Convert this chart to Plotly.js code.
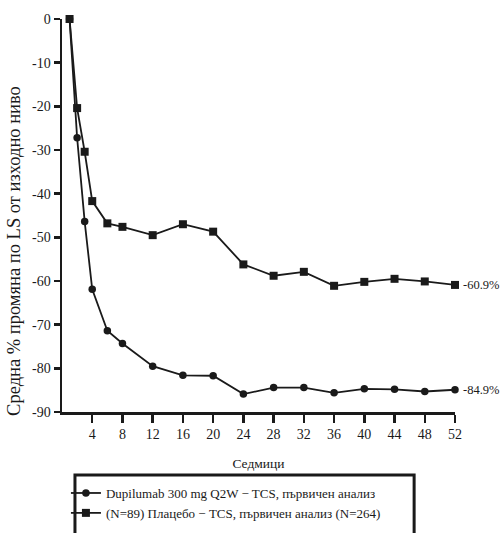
<!DOCTYPE html>
<html>
<head>
<meta charset="utf-8">
<script src="https://cdn.plot.ly/plotly-3.0.1.min.js"></script>
<style>
  html, body { margin: 0; padding: 0; background: #fff; }
  #chart { width: 503px; height: 533px; }
</style>
</head>
<body>
<div id="chart"></div>
<script>
// Weeks of assessment
const weeks = [1, 2, 3, 4, 6, 8, 12, 16, 20, 24, 28, 32, 36, 40, 44, 48, 52];

// Mean % change from baseline in LS
const dupilumab = [0, -27.2, -46.4, -61.9, -71.4, -74.3, -79.5, -81.6, -81.7, -85.9,
                   -84.4, -84.4, -85.6, -84.7, -84.8, -85.3, -84.9];
const placebo = [0, -20.4, -30.4, -41.7, -46.8, -47.6, -49.5, -47.0, -48.7, -56.2,
                 -58.8, -57.9, -61.1, -60.2, -59.5, -60.1, -60.9];

const seriesNames = [
  'Dupilumab 300 mg Q2W − TCS, първичен анализ',
  '(N=89) Плацебо − TCS, първичен анализ (N=264)'
];

const xTicks = [4, 8, 12, 16, 20, 24, 28, 32, 36, 40, 44, 48, 52];
const yTicks = [0, -10, -20, -30, -40, -50, -60, -70, -80, -90];

const serif = 'Liberation Serif, Times New Roman, serif';
const ink = '#1a1a1a';

const traces = [
  {
    x: weeks, y: dupilumab, name: seriesNames[0],
    type: 'scatter', mode: 'lines+markers', cliponaxis: false,
    line: { color: ink, width: 1.8 },
    marker: { symbol: 'circle', size: 7.5, color: ink }
  },
  {
    x: weeks, y: placebo, name: seriesNames[1],
    type: 'scatter', mode: 'lines+markers', cliponaxis: false,
    line: { color: ink, width: 1.8 },
    marker: { symbol: 'square', size: 8, color: ink }
  }
];

const lastIdx = weeks.length - 1;
const endLabels = [
  { y: placebo[lastIdx], text: placebo[lastIdx].toFixed(1) + '%' },
  { y: dupilumab[lastIdx], text: dupilumab[lastIdx].toFixed(1) + '%' }
];

const annotations = endLabels.map(l => ({
  x: weeks[lastIdx], y: l.y, xref: 'x', yref: 'y',
  text: l.text, showarrow: false, xanchor: 'left', yanchor: 'middle',
  xshift: 6, font: { family: serif, size: 12.5, color: ink }
}));

// Rotated y-axis title
annotations.push({
  xref: 'paper', yref: 'paper', x: -0.122, y: 0.41,
  xanchor: 'center', yanchor: 'middle', textangle: -90,
  text: 'Средна % промяна по LS от изходно ниво', showarrow: false,
  font: { family: serif, size: 18.5, color: ink }
});

const layout = {
  width: 503, height: 533,
  margin: { l: 62, r: 48, t: 19, b: 121, autoexpand: false },
  paper_bgcolor: '#fff', plot_bgcolor: '#fff',
  font: { family: serif, size: 14, color: ink },
  showlegend: true,
  legend: {
    x: 0.01, xanchor: 'left', y: -0.168, yanchor: 'top',
    bgcolor: 'rgba(0,0,0,0)', borderwidth: 0,
    font: { family: serif, size: 13, color: ink },
    itemwidth: 30, tracegroupgap: 0
  },
  xaxis: {
    range: [0, 52], tickvals: xTicks, ticktext: xTicks.map(String),
    showgrid: false, zeroline: false, automargin: false,
    showline: true, linecolor: ink, linewidth: 2.5,
    ticks: 'outside', ticklen: 8, tickwidth: 2.5, tickcolor: ink,
    title: { text: 'Седмици', font: { family: serif, size: 13.5, color: ink }, standoff: 18 },
    tickfont: { family: serif, size: 14, color: ink }
  },
  yaxis: {
    range: [-90, 0], tickvals: yTicks, ticktext: yTicks.map(String),
    showgrid: false, zeroline: false, automargin: false,
    showline: true, linecolor: ink, linewidth: 2.5,
    ticks: 'outside', ticklen: 6, tickwidth: 2.5, tickcolor: ink,
    tickfont: { family: serif, size: 14, color: ink }
  },
  annotations: annotations,
  shapes: [{
    type: 'rect', xref: 'paper', yref: 'paper',
    x0: 0.033, x1: 0.896, y0: -0.33, y1: -0.160,
    line: { color: ink, width: 3 }, fillcolor: 'rgba(0,0,0,0)'
  }]
};

Plotly.newPlot('chart', traces, layout, { displayModeBar: false, staticPlot: true });
</script>
</body>
</html>
